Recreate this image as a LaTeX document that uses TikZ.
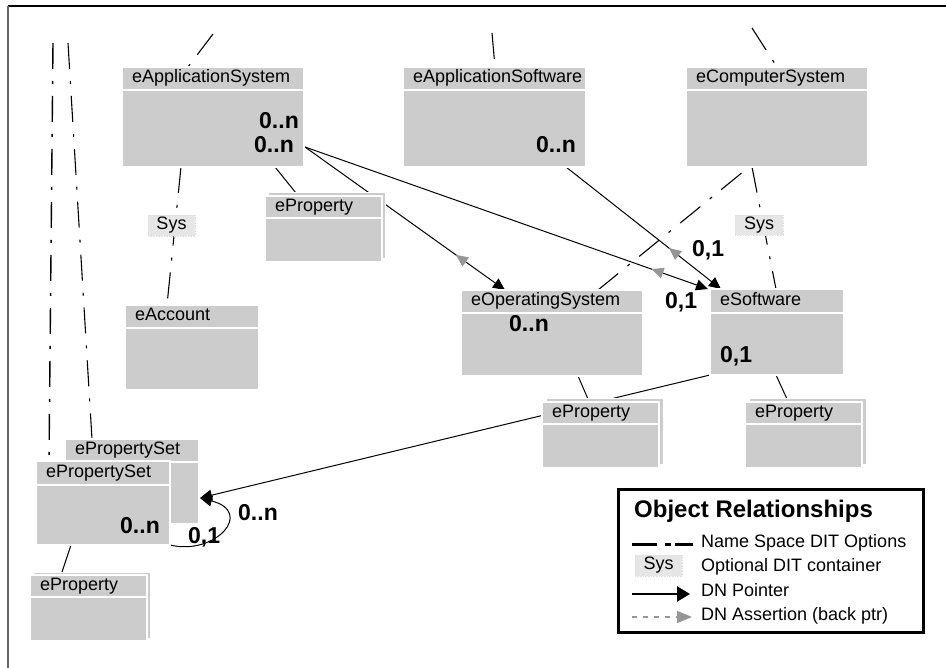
\documentclass[tikz,border=0pt]{standalone}
\usepackage{fontspec}
\setmainfont{Liberation Sans}
\usetikzlibrary{arrows.meta,calc,decorations.markings}

\definecolor{boxgray}{RGB}{204,204,204}
\definecolor{sysgray}{RGB}{230,230,230}
\definecolor{backgray}{RGB}{150,150,150}

\pgfdeclarelayer{lines}
\pgfsetlayers{lines,main}

\newcommand\lblsize{\fontsize{18pt}{20pt}\selectfont}
\newcommand\mulsize{\fontsize{23pt}{25pt}\selectfont\bfseries}
\newcommand\legtitlesize{\fontsize{24pt}{26pt}\selectfont\bfseries}

\tikzset{
  ttl/.style={fill=boxgray, draw=white, line width=2pt, outer sep=0pt,
    inner xsep=10pt, inner ysep=0pt, minimum height=23pt, anchor=north west,
    align=left, text height=13pt, text depth=4pt, font=\lblsize},
  bdy/.style={fill=boxgray, draw=white, line width=2pt, outer sep=0pt,
    inner sep=0pt, anchor=north west},
  stackbk/.style={fill=boxgray, draw=white, line width=1pt, outer sep=0pt,
    inner sep=0pt, anchor=north west, minimum width=117pt, minimum height=66pt},
  mult/.style={font=\mulsize, inner sep=0pt},
  sysbox/.style={fill=sysgray, draw=black!12, densely dotted, line width=0.6pt,
    inner sep=0pt, minimum width=47pt, minimum height=21pt, font=\lblsize},
  legtext/.style={font=\lblsize, inner sep=0pt, anchor=base west},
  nsline/.style={line width=1.1pt, dash pattern=on 26pt off 12pt on 3pt off 12pt},
  link/.style={line width=1pt},
  dnptr/.style={link, -{Triangle[length=12pt,width=11pt]}},
  backmark/.style={postaction={decorate}, decoration={markings,
    mark=at position #1 with {\arrowreversed{Triangle[length=12pt,width=11pt,color=backgray]}}}},
}

\begin{document}
\begin{tikzpicture}[x=1pt,y=-1pt]
\useasboundingbox (0,0) rectangle (946,668);

% ---------- classes ----------
\node[ttl, minimum width=182pt, text width=162pt] (asyst) at (122,67) {eApplicationSystem};
\node[bdy, minimum width=182pt, minimum height=77pt] (asysb) at (asyst.south west) {};

\node[ttl, minimum width=183pt, text width=163pt] (aswt) at (403,67) {eApplicationSoftware};
\node[bdy, minimum width=183pt, minimum height=77pt] (aswb) at (aswt.south west) {};

\node[ttl, minimum width=182pt, text width=162pt] (cst) at (686,67) {eComputerSystem};
\node[bdy, minimum width=182pt, minimum height=77pt] (csb) at (cst.south west) {};

\node[ttl, minimum width=134pt, text width=114pt] (acctt) at (125,305) {eAccount};
\node[bdy, minimum width=134pt, minimum height=62pt] (acctb) at (acctt.south west) {};

\node[ttl, minimum width=182pt, text width=162pt] (ost) at (461,290) {eOperatingSystem};
\node[bdy, minimum width=182pt, minimum height=63pt] (osb) at (ost.south west) {};

\node[ttl, minimum width=134pt, text width=114pt, minimum height=24pt] (swt) at (710,289) {eSoftware};
\node[bdy, minimum width=134pt, minimum height=62pt] (swb) at (swt.south west) {};

% property stacks
\node[stackbk] (ep1bk) at (268,193) {};
\node[ttl, minimum width=117pt, text width=97pt, minimum height=22pt] (ep1t) at (265,196) {eProperty};
\node[bdy, minimum width=117pt, minimum height=44pt] (ep1b) at (ep1t.south west) {};

\node[stackbk] (ep2bk) at (546,399) {};
\node[ttl, minimum width=117pt, text width=97pt, minimum height=22pt] (ep2t) at (542,402) {eProperty};
\node[bdy, minimum width=117pt, minimum height=44pt] (ep2b) at (ep2t.south west) {};

\node[stackbk] (ep3bk) at (749,399) {};
\node[ttl, minimum width=117pt, text width=97pt, minimum height=22pt] (ep3t) at (745,402) {eProperty};
\node[bdy, minimum width=117pt, minimum height=44pt] (ep3b) at (ep3t.south west) {};

\node[stackbk] (ep4bk) at (33,572) {};
\node[ttl, minimum width=117pt, text width=97pt, minimum height=22pt] (ep4t) at (30,575) {eProperty};
\node[bdy, minimum width=117pt, minimum height=44pt] (ep4b) at (ep4t.south west) {};

% property sets
\node[ttl, minimum width=134pt, text width=114pt] (psbkt) at (65,439) {ePropertySet};
\node[bdy, minimum width=134pt, minimum height=62pt] (psbkb) at (psbkt.south west) {};
\node[ttl, minimum width=134pt, text width=114pt, minimum height=24pt] (psft) at (36,461) {ePropertySet};
\node[bdy, minimum width=134pt, minimum height=60pt] (psfb) at (psft.south west) {};

% ---------- multiplicities ----------
\node[mult, anchor=base east] (mas1) at (299,129) {0..n};
\node[mult, anchor=base east] (mas2) at (294,153) {0..n};
\node[mult, anchor=base east] (masw) at (576,153) {0..n};
\node[mult, anchor=base west] (mos) at (509,332) {0..n};
\node[mult, anchor=base west] (msw) at (720,363) {0,1};
\node[mult, anchor=base west] (mswl) at (665,309) {0,1};
\node[mult, anchor=base west] (mswt) at (692,257) {0,1};
\node[mult, anchor=base east] (mps) at (160,533) {0..n};
\node[mult, anchor=base west] (mloop1) at (188,543) {0,1};
\node[mult, anchor=base west] (mloopn) at (238,520) {0..n};

% ---------- optional containers ----------
\node[sysbox] (sysL) at (171.5,225.5) {Sys};
\node[sysbox, minimum width=48pt, minimum height=20pt] (sysR) at (759,225) {Sys};

% ---------- legend ----------
\node[draw, line width=3pt, inner sep=0pt, outer sep=0pt, minimum width=305pt,
      minimum height=143pt, anchor=north west] (leg) at (618,489) {};
\node[font=\legtitlesize, inner sep=0pt, anchor=base west] (legtitle) at (634,517) {Object Relationships};
\coordinate (lg1a) at (632,544); \coordinate (lg1b) at (693,544);
\draw[line width=3pt, dash pattern=on 25pt off 8pt on 6pt off 4pt] (lg1a) -- (lg1b);
\node[legtext] (lgt1) at (701,547) {Name Space DIT Options};
\node[sysbox] (lgsys) at (658.5,565.5) {Sys};
\node[legtext] (lgt2) at (701,571) {Optional DIT container};
\coordinate (lg3a) at (632,594); \coordinate (lg3b) at (690,594);
\draw[line width=2.5pt, -{Triangle[length=13pt,width=15pt]}] (lg3a) -- (lg3b);
\node[legtext] (lgt3) at (701,596) {DN Pointer};
\coordinate (lg4a) at (632,617); \coordinate (lg4b) at (692,617);
\draw[backgray, line width=1.5pt, dash pattern=on 5pt off 6pt,
      -{Triangle[length=15pt,width=12pt]}] (lg4a) -- (lg4b);
\node[legtext] (lgt4) at (701,620) {DN Assertion (back ptr)};

% ---------- connectors (behind the boxes) ----------
\begin{pgfonlayer}{lines}
  % frame
  \coordinate (frTL) at (8,6); \coordinate (frTR) at (946,6); \coordinate (frBL) at (8,668);
  \draw[line width=1.5pt] (frTR) -- (frTL);
  \draw[black!60, line width=1.2pt] (frTL) -- (frBL);

  % name space options
  \coordinate (nsA) at (213,34);
  \coordinate (nsB) at (492,33);
  \coordinate (nsC) at (752,28);
  \coordinate (nsL1) at (53,43);
  \coordinate (nsL2) at (68,43);
  \draw[nsline] (nsA) -- ($(asyst.north west)+(66,0)$);
  \draw[nsline] (nsB) -- ($(aswt.north west)+(92,0)$);
  \draw[nsline] (nsC) -- ($(cst.north west)+(91,0)$);
  \draw[nsline] ($(asysb.south west)+(59,0)$) -- ($(acctt.north west)+(42,0)$);
  \draw[nsline] ($(csb.south west)+(66,0)$) -- ($(swt.north west)+(66,0)$);
  \draw[nsline] ($(ost.north west)+(137,0)$) -- ($(csb.south west)+(63,0)$);
  \draw[nsline, line width=1.4pt] (nsL1) -- ($(psft.north west)+(13,0)$);
  \draw[nsline] (nsL2) -- ($(psbkt.north west)+(27,0)$);

  % DN pointers with back assertions
  \coordinate (asout) at ($(mas2.base east)+(11,-6)$);
  \draw[dnptr, backmark=0.755] (asout) -- ($(ost.north west)+(44,0)$);
  \draw[dnptr, backmark=0.86] (asout) -- ($(swt.north west)+(-2,0)$);
  \draw[dnptr, backmark=0.665] ($(aswb.south east)+(-20,0)$) -- ($(swt.north west)+(11,0)$);

  % property links
  \draw[link] ($(asysb.south west)+(153,0)$) -- ($(ep1bk.north west)+(28,0)$);
  \draw[link] ($(osb.south west)+(117,0)$) -- ($(ep2bk.north west)+(42,0)$);
  \draw[link] ($(swb.south west)+(66,0)$) -- ($(ep3bk.north west)+(38,0)$);
  \draw[link] ($(psfb.south west)+(35,0)$) -- ($(ep4bk.north west)+(29,0)$);

  % property set pointers
  \coordinate (pstip) at ($(psbkb.east)+(1,5)$);
  \draw[dnptr] (swb.south west) -- (pstip);
  \draw[dnptr] (psfb.south east) .. controls +(45,11) and +(55,14) .. (pstip);
\end{pgfonlayer}
\end{tikzpicture}
\end{document}
